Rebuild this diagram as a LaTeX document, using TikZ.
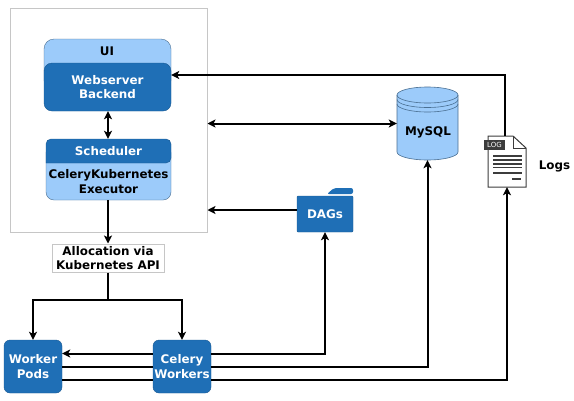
\documentclass[tikz,border=0pt]{standalone}
\usepackage{fontspec}
\setmainfont{DejaVu Sans}
\usetikzlibrary{arrows.meta}
\definecolor{lightblue}{HTML}{9CCBFA}
\definecolor{darkblue}{HTML}{1F6FB6}
\definecolor{framegray}{HTML}{C6C6C6}
\definecolor{logdark}{HTML}{3C3C3C}
\definecolor{edgeblue}{HTML}{4A6F92}
\tikzset{
  tip/.tip={Stealth[length=8pt, width=8pt, inset=2pt]},
  flow/.style={line width=2pt, -tip},
  flowboth/.style={line width=2pt, tip-tip},
  plainline/.style={line width=2pt},
  labeltext/.style={inner sep=0pt, align=center, font=\bfseries\fontsize{11.9}{14.8}\selectfont},
  bluebox/.style={labeltext, fill=darkblue, draw=darkblue!80!black, line width=0.4pt, rounded corners=6pt, text=white},
}
\begin{document}
\begin{tikzpicture}[x=1pt, y=-1pt]
\useasboundingbox (0,0) rectangle (574,400);
\node [draw=framegray, line width=1pt, fill=white, minimum width=197pt, minimum height=224pt] (frame) at (108.5,120) {};
%
\fill [lightblue, draw=edgeblue, line width=0.4pt, rounded corners=10pt] (44,39) rectangle (171,90);
\node [labeltext] (ui) at (107,51) {UI};
\node [bluebox, rounded corners=8pt, minimum width=127pt, minimum height=48pt] (webserver) at (107.5,87) {Webserver\\Backend};
%
\fill [lightblue, draw=edgeblue, line width=0.4pt, rounded corners=8pt] (46,145) rectangle (171,200);
\draw [fill=darkblue, draw=darkblue!80!black, line width=0.4pt, rounded corners=5pt] (46,163) -- (46,139) -- (171,139) -- (171,163) [sharp corners] -- cycle;
\node [labeltext, text=white, minimum width=125pt, minimum height=24pt] (scheduler) at (108.5,151) {Scheduler};
\node [labeltext, minimum width=125pt, minimum height=37pt] (executor) at (108.5,181.5) {CeleryKubernetes\\Executor};
\node [labeltext, draw=framegray, line width=1pt, fill=white, minimum width=112pt, minimum height=28pt] (alloc) at (108,258) {Allocation via\\Kubernetes API};
%
\node [bluebox, minimum width=58pt, minimum height=53pt] (worker) at (33,366.5) {Worker\\Pods};
\node [bluebox, minimum width=58pt, minimum height=53pt] (celery) at (182,366.5) {Celery\\Workers};
%
\node [minimum width=61pt, minimum height=73pt, inner sep=0pt] (mysql) at (427.5,123.5) {};
\draw [edgeblue, line width=0.6pt, fill=lightblue] (397,95) arc [start angle=180, end angle=360, x radius=30.5, y radius=8] -- (458,152) arc [start angle=0, end angle=180, x radius=30.5, y radius=8] -- cycle;
\foreach \arcy in {95,99.5,104} {
  \draw [edgeblue, line width=0.6pt] (397,\arcy) arc [start angle=180, end angle=0, x radius=30.5, y radius=8];
}
\node [labeltext] (mysqltext) at (428,132) {MySQL};
%
\fill [darkblue, rounded corners=2pt] (327,194) -- (334,188) -- (353,188) -- (353,194) -- cycle;
\node [bluebox, rounded corners=1pt, minimum width=56pt, minimum height=36pt] (dags) at (325,214) {DAGs};
%
\node [minimum width=38pt, minimum height=51pt, inner sep=0pt] (logdoc) at (507,161.5) {};
\draw [logdark, line width=1pt, fill=white] (488,136) -- (513,136) -- (526,148) -- (526,187) -- (488,187) -- cycle;
\draw [logdark, line width=0.8pt] (513,136) -- (513,148) -- (526,148);
\foreach \liney in {156,160,164,167.5,173} {
  \draw [logdark, line width=1.2pt] (493,\liney) -- (522,\liney);
}
\draw [logdark, line width=1.2pt] (512,179) -- (521,179);
\node [fill=logdark, text=white, inner sep=0pt, minimum width=21pt, minimum height=10pt, font=\fontsize{7}{8}\selectfont] (logtag) at (494.5,144.5) {LOG};
\node [labeltext] (logs) at (554.5,166.5) {Logs};
%
\draw [flowboth] (scheduler.north -| alloc.north) -- (webserver.south -| alloc.north);
\draw [flow] (executor.south -| alloc.north) -- (alloc.north);
\draw [plainline] (alloc.south) -- (108,300);
\draw [flow] (108,300) -| (worker.north);
\draw [flow] (108,300) -| (celery.north);
%
\draw [flow] ([yshift=13pt]celery.west) -- ([yshift=13pt]worker.east);
\draw [plainline] (worker.east) -- (celery.west);
\draw [plainline] ([yshift=-13pt]worker.east) -- ([yshift=-13pt]celery.west);
\draw [flow] ([yshift=13pt]celery.east) -| (dags.south);
\draw [flow] (celery.east) -| (mysql.south);
\draw [flow] ([yshift=-13pt]celery.east) -| (logdoc.south);
%
\draw [flow] ([yshift=4pt]dags.west) -- ([yshift=4pt]dags.west -| frame.east);
\draw [flowboth] (mysql.west) -- (mysql.west -| frame.east);
\draw [flow] ([xshift=-2pt]logdoc.north) |- ([yshift=12pt]webserver.east);
\end{tikzpicture}
\end{document}
